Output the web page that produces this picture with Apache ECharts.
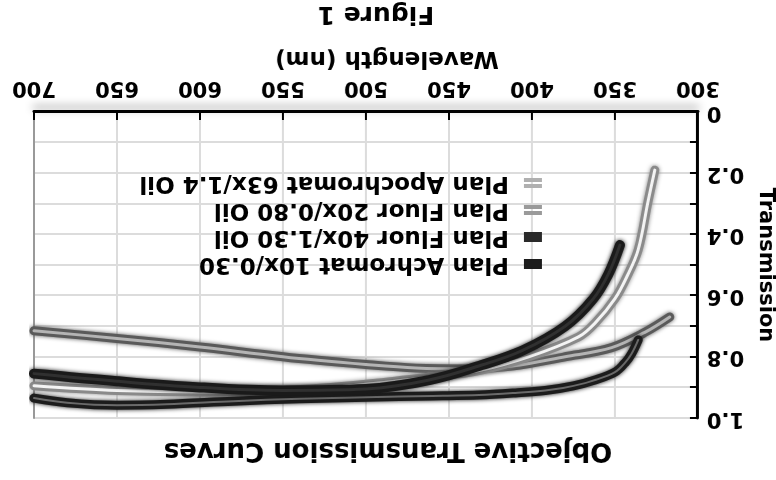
<!DOCTYPE html>
<html>
<head>
<meta charset="utf-8">
<script src="https://cdn.jsdelivr.net/npm/echarts@6/dist/echarts.min.js"></script>
<style>
html,body{margin:0;padding:0;background:#fff;}
#c{width:776px;height:480px;transform:rotate(180deg);transform-origin:50% 50%;}
</style>
</head>
<body>
<div id="c"></div>
<script>
// ---- data ----
const names = ['Plan Achromat 10x/0.30', 'Plan Fluor 40x/1.30 Oil', 'Plan Fluor 20x/0.80 Oil', 'Plan Apochromat 63x/1.4 Oil'];

const achromatX = [700, 680, 650, 620, 580, 540, 500, 460, 432, 410, 392, 375, 362, 350, 344, 340, 336];
const achromatY = [0.935, 0.95, 0.958, 0.955, 0.945, 0.937, 0.932, 0.928, 0.925, 0.918, 0.91, 0.895, 0.876, 0.85, 0.82, 0.79, 0.745];

const fluor40X = [700, 650, 600, 550, 500, 462, 432, 406, 380, 363, 354, 347];
const fluor40Y = [0.855, 0.88, 0.90, 0.91, 0.905, 0.876, 0.83, 0.78, 0.70, 0.61, 0.53, 0.435];

const fluor20X = [700, 650, 600, 550, 500, 470, 440, 412, 380, 352, 332, 317];
const fluor20Y = [0.715, 0.74, 0.768, 0.80, 0.825, 0.837, 0.84, 0.83, 0.80, 0.77, 0.72, 0.67];

const apoX = [700, 650, 600, 550, 500, 460, 432, 402, 372, 362, 350, 343, 336, 330, 326];
const apoY = [0.895, 0.91, 0.915, 0.91, 0.89, 0.865, 0.845, 0.80, 0.735, 0.69, 0.61, 0.54, 0.45, 0.29, 0.19];

const xMin = 300, xMax = 700, xStep = 50;
const yMin = 0, yMax = 1, yStep = 0.1;

// ---- chart ----
const FONT = 'DejaVu Sans';
function pairs(xs, ys) { return xs.map((x, i) => [x, ys[i]]); }
function tube(name, xs, ys, outer, inner, ow, iw) {
  const base = { type: 'line', name: name, data: pairs(xs, ys), symbol: 'none', showSymbol: false,
    smooth: 0.35, silent: true, itemStyle: { color: outer } };
  return [
    Object.assign({}, base, { lineStyle: { color: outer, width: ow, cap: 'round', join: 'round', shadowColor: outer, shadowBlur: 4 } }),
    Object.assign({}, base, { lineStyle: { color: inner, width: iw, cap: 'round', join: 'round' } })
  ];
}

const chart = echarts.init(document.getElementById('c'), null, { renderer: 'canvas' });
const series = [].concat(
  tube(names[2], fluor20X, fluor20Y, '#5a5a5a', '#b4b4b4', 9, 3),
  tube(names[3], apoX, apoY, '#8a8a8a', '#f4f4f4', 9, 3),
  tube(names[0], achromatX, achromatY, '#1c1c1c', '#6a6a6a', 9, 2),
  tube(names[1], fluor40X, fluor40Y, '#1a1a1a', '#303030', 10, 3)
);

const dbl = 'path://M0,0H18V4H0Z M0,6H18V10H0Z';
chart.setOption({
  animation: false,
  backgroundColor: '#fff',
  title: [
    { text: 'Objective Transmission Curves', left: 'center', top: 12,
      textStyle: { fontFamily: FONT, fontWeight: 'bold', fontSize: 26, color: '#000' } },
    { text: 'Figure 1', left: 395, top: 449, textAlign: 'center',
      textStyle: { fontFamily: FONT, fontWeight: 'bold', fontSize: 25, color: '#000' } }
  ],
  legend: {
    orient: 'vertical', left: 229, top: 199, itemGap: 3, itemWidth: 18, itemHeight: 10,
    symbolKeepAspect: false, selectedMode: false,
    textStyle: { fontFamily: FONT, fontWeight: 'bold', fontSize: 23, color: '#000', lineHeight: 24, padding: [0, 0, 0, 10] },
    data: [
      { name: names[0], icon: 'rect', itemStyle: { color: '#1c1c1c' } },
      { name: names[1], icon: 'rect', itemStyle: { color: '#2a2a2a' } },
      { name: names[2], icon: dbl, itemStyle: { color: '#9a9a9a' } },
      { name: names[3], icon: dbl, itemStyle: { color: '#b0b0b0' } }
    ]
  },
  grid: { left: 78, right: 34, top: 62, bottom: 112, outerBoundsMode: 'none', containLabel: false },
  xAxis: {
    type: 'value', min: xMin, max: xMax, interval: xStep,
    name: 'Wavelength (nm)', nameLocation: 'middle', nameGap: 43,
    nameTextStyle: { fontFamily: FONT, fontWeight: 'bold', fontSize: 23, color: '#000', padding: [0, 42, 0, 0] },
    axisLine: { lineStyle: { color: '#000', width: 3, shadowColor: 'rgba(0,0,0,0.45)', shadowBlur: 8, shadowOffsetY: 4 } },
    axisTick: { inside: true, length: 8, lineStyle: { color: '#000', width: 2 } },
    axisLabel: { margin: 14, fontFamily: FONT, fontWeight: 'bold', fontSize: 21, color: '#000' },
    splitLine: { show: true, lineStyle: { color: '#dcdcdc', width: 2 } }
  },
  yAxis: [{
    type: 'value', min: yMin, max: yMax, interval: yStep,
    name: 'Transmission', nameLocation: 'middle', nameGap: 57, nameRotate: 90,
    nameTextStyle: { fontFamily: FONT, fontWeight: 'bold', fontSize: 21, color: '#000' },
    axisLine: { show: true, lineStyle: { color: '#000', width: 3 } },
    axisTick: { show: true, inside: true, length: 8, lineStyle: { color: '#000', width: 2 } },
    axisLabel: { margin: 9, fontFamily: FONT, fontWeight: 'bold', fontSize: 21, color: '#000',
      formatter: v => { const k = Math.round(v * 10); if (k % 2) return ''; return k === 0 ? '0' : (k / 10).toFixed(1); } },
    splitLine: { show: true, lineStyle: { color: '#dcdcdc', width: 2 } }
  }, {
    type: 'value', min: yMin, max: yMax, position: 'right',
    axisLine: { show: true, lineStyle: { color: '#999', width: 2 } },
    axisTick: { show: false }, axisLabel: { show: false }, splitLine: { show: false }
  }],
  series: series
});
</script>
</body>
</html>
